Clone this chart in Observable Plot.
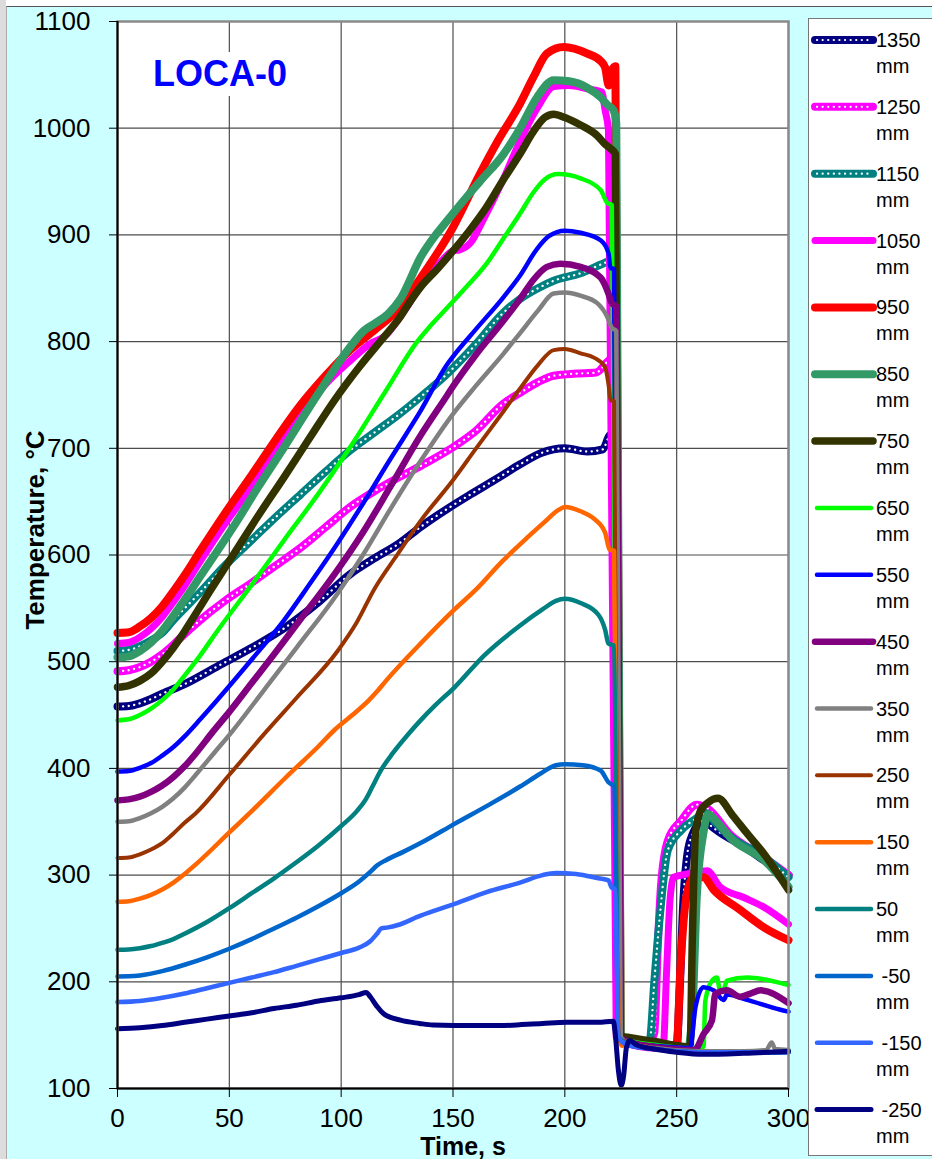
<!DOCTYPE html>
<html>
<head>
<meta charset="utf-8">
<script src="https://cdn.jsdelivr.net/npm/d3@7"></script>
<script src="https://cdn.jsdelivr.net/npm/@observablehq/plot@0.6"></script>
<style>
  body { margin:0; background:#fff; }
  #page { position:relative; width:932px; height:1159px; overflow:hidden; font-family:"Liberation Sans", Arial, sans-serif; }
  #strip { position:absolute; left:0; top:0; width:6px; height:1159px; background:#dcdcdc; }
  #bg { position:absolute; left:6px; top:6px; width:926px; height:1153px; background:#ccffff; border-top:1px solid #555; border-left:1px solid #aaa; }
  #chart { position:absolute; left:0; top:0; }
  #legend { position:absolute; left:808px; top:18px; width:140px; height:1136px; background:#fff; border:1px solid #777; }
  #title { position:absolute; left:148px; top:52px; padding:0 5px; background:#fff; color:#0000ff; font-weight:bold; font-size:36px; line-height:44px; }
</style>
</head>
<body>
<div id="page">
  <div id="strip"></div>
  <div id="bg"></div>
  <div id="chart"></div>
  <div id="title">LOCA-0</div>
  <div id="legend"></div>
</div>
<script>
// ---- tick values ----
const xTicks = [0, 50, 100, 150, 200, 250, 300];
const yTicks = [100, 200, 300, 400, 500, 600, 700, 800, 900, 1000, 1100];

// ---- series names (legend order) ----
const names = ["1350", "1250", "1150", "1050", "950", "850", "750", "650", "550", "450", "350", "250", "150", "50", " -50", " -150", " -250"];

// ---- series values: [time s, temperature °C] ----
const s1350 = [[0,458],[5,458.5],[10,461],[15,465],[20,470],[30,479],[45,496],[60,513],[75,532],[90,556],[104,582],[115,597],[126,611],[136,627],[148,644],[158,657],[170,672],[180,685],[190,696],[195,699],[200,700],[210,697],[217,699],[220,712],[222,714],[224.5,148],[228,143],[240,139],[250,140],[251.5,200],[253,276],[256,332],[262,351],[266,345],[270,339],[280,327],[289,314],[300,300]];
const s1250 = [[0,491],[5,492],[10,495],[15,500],[20,507],[25,516],[30,526],[37,539],[48,557],[60,574],[70,589],[82,607],[93,626],[104,645],[115,660],[126,673],[136,684],[150,701],[160,716],[172,741],[180,752],[188,762],[195,768],[205,770],[214,771],[219,781],[221.5,785],[224,148],[228,143],[236,140],[240,152],[241.5,230],[243,290],[246,332],[252,351],[259,366],[264,362],[274,338],[288,318],[300,300]];
const s1150 = [[0,510],[5,511],[10,514.5],[15,520],[20,527],[25,539],[30,550],[37,565],[48,590],[60,614],[71,636],[82,657],[93,678],[104,698],[115,715],[126,732],[136,749],[148,771],[160,797],[172,826],[180,840],[188,850],[195,857],[207,864],[217,873],[221,876],[223.5,148],[228,143],[236,140],[238,145],[240,200],[242.5,262],[246,323],[252,342],[258,352],[263.5,358],[267,350],[274,336],[289,317],[300,298]];
const s1050 = [[0,517],[5,518],[10,523],[15,531],[20,542],[25,556],[30,571],[37,594],[48,629],[60,664],[71,698],[82,732],[93,760],[104,782],[113,798],[120,806],[126,822],[135,850],[145,876],[150,885],[153,886],[158,893],[163,912],[172,950],[180,988],[188,1020],[195,1039],[202,1040],[210,1037],[216.5,1034],[218,1017],[219.5,998],[223,148],[228,142],[240,138],[244,140],[245.5,210],[247,276],[248.7,298],[254.6,301],[263.6,304],[269.4,289],[280,279],[289,270],[300,254]];
const s950 = [[0,527],[5,527.6],[10,533],[15,541],[20,552],[25,566],[30,581],[37,604],[48,639],[60,675],[71,709],[82,741],[93,768],[104,792],[115,811],[126,831],[135,858],[150,907],[162,957],[170,988],[180,1023],[186,1048],[192,1070],[199.5,1076],[210,1070],[216,1063],[218,1057],[219.6,1040],[221,1054],[222.6,1058],[225,148],[228,144],[240,140],[250,141],[251.7,214],[254.6,283],[257.7,298],[262,298],[266.6,286],[278,268],[289,251],[300,239]];
const s850 = [[0,504],[5,505],[10,510],[15,518],[20,529],[25,543],[30,558],[37,580],[52,627],[63,664],[74.5,701],[90,752],[104,795],[110,810],[115,817],[121,826],[126.5,840],[135.5,879],[150,920],[162,950],[172.7,976],[180,1000],[187.6,1029],[195,1045],[202,1044],[210,1038],[216,1029],[219,1022],[221.7,1017],[223,1005],[225,148],[228,145],[240,141],[255,138],[257,170],[259,280],[262,340],[264,357],[268,350],[274,335],[289,314],[300,289]];
const s750 = [[0,476],[5,477.5],[10,482],[15,489],[20,500],[25,513],[28,522],[35,545],[41,565],[52,601],[63,637],[74.5,673],[86,710],[97,745],[108,776],[119,804],[126,822],[131,838],[135.5,851],[143,868],[150,885],[157,903],[165,926],[172,950],[180,976],[186,997],[191,1010],[195,1013],[200,1010],[207,1003],[214.5,993],[218,985],[220.4,981],[222.6,976],[224.8,149],[228,148],[240,144],[256,139],[257,240],[258.4,339],[260.6,360],[264,368],[268.5,372],[275,356],[281.5,339],[289,320],[300,286]];
const s650 = [[0,445],[5,446],[10,450],[15,456],[20,464],[25,474],[30,487],[37,506],[44.7,529],[60,572],[74.5,614],[90,658],[104,701],[120,754],[134,800],[140,815],[147.5,832],[155,849],[165,873],[172.7,897],[180,920],[186,940],[191,952],[197,957],[207,953],[216,942],[219,930],[221,928],[224,148],[228,145],[240,141],[255,138],[262,139],[262.8,182],[265.8,201],[268,204],[269.4,192],[270.8,192],[272.5,201],[281.5,204],[300,197]];
const s550 = [[0,397],[5,397.5],[10,400.5],[15,405],[20,412],[25,420],[30,430],[37,446],[45,465],[60,502],[74.5,539],[86,573],[98.4,611],[110,649],[122,690],[135.5,735],[147.5,779],[150,786],[160,811],[172.7,842],[180,862],[187.6,887],[193,899],[200,904],[207,902],[216,895],[219.5,883],[220.4,869],[222,868],[224,148],[228,144],[240,140],[256,138],[258.4,176],[262,195],[266.6,192],[271,183],[272.5,188],[281.5,183],[296,174],[300,172]];
const s450 = [[0,370],[5,371],[10,373.5],[15,378],[20,384],[25,392],[30,402],[35,414],[42.5,434],[50,453],[60,480],[70,507],[81.9,540],[90,562],[98.4,586],[110,622],[122,664],[135.5,712],[147.5,750],[150,758],[160,787],[172.7,820],[180,840],[186,858],[192,870],[198,873],[207,870],[216,860],[219.5,845],[221,836],[223,833],[225,148],[228,144],[240,139],[258,136],[262,151],[265.8,164],[267.3,189],[272.5,192],[278.5,186],[283,189],[287.5,192],[300,180]];
const s350 = [[0,350],[5,350.5],[10,353.5],[15,358],[20,364],[25,372],[30,382],[35,394],[43,414],[51.4,435],[65,472],[80,513],[98.4,564],[110,601],[122,643],[135.5,688],[150.3,733],[160,758],[172.7,789],[180,808],[188,829],[195,845],[200,846],[207,843],[214.5,836],[219,823],[221,813],[223,810],[225,148],[228,143],[240,138],[260,135],[280,135],[290,136],[292.5,143],[294,137],[300,136]];
const s250 = [[0,316],[5,316.5],[10,319.5],[15,324],[20,330],[25,339],[30,349],[35,358],[50,394],[66.3,434],[80,466],[98.4,510],[107,537],[114.8,568],[125,600],[135.5,632],[150.3,671],[160,699],[172.7,735],[180,756],[188,778],[195,792],[200,793],[207,789],[213,785],[218,776],[219.5,760],[220.5,745],[222,744],[224,148],[228,143],[240,137],[260,134],[300,134]];
const s150 = [[0,275],[5,275.5],[10,278],[15,281.5],[20,286.5],[25,293],[30,301],[35,310],[50,340],[60,360],[75,391],[90,421],[97,436],[105,450],[112,463],[116,472],[120,482],[135.5,517],[150.7,549],[160,567],[172,594],[182,614],[191,631],[197,642],[200,645],[207,641],[213,634],[218,621],[220,605],[222,604],[224,148],[225.6,140],[228,142],[240,137],[260,134],[300,134]];
const s50 = [[0,230],[5,230.3],[10,231.5],[15,233.5],[20,236.5],[25,240],[30,245],[40,256],[50,269],[60,283],[70,297],[80,312],[90,328],[100,346],[107,360],[111,371],[114,383],[118,399],[123,414],[130,432],[135.5,445],[142,459],[150.7,476],[164,506],[180,534],[190,549],[196,557],[200,559],[207,555],[215,544],[218,530],[219.5,517],[222,515],[224,148],[228,142],[240,137],[260,134],[300,134]];
const sm50 = [[0,205],[5,205.2],[10,206],[20,210],[30,216],[40,223],[50,231],[60,240],[70,250],[80,260],[90,271],[100,283],[108,294],[113,303],[116,309],[120,314],[128,322],[135.5,330],[150.7,348],[167,367],[180,383],[189,395],[196,403],[200,404],[208,403],[216,398],[219.5,387],[222,383],[224,148],[228,141],[240,137],[260,134],[300,134]];
const sm150 = [[0,181],[10,182],[20,185],[30,189],[40,194],[50,199],[60,204],[70,209],[80,215],[90,221],[100,227],[108,232],[113,238],[116,245],[118,250],[121,251],[125,253],[135.5,262],[150.7,273],[165,284],[180,293],[190,300],[196,302],[205,301],[215,297],[219.5,295],[221,288],[222.5,287],[224,148],[228,141],[240,137],[260,134],[300,134]];
const sm250 = [[0,156],[10,157],[20,159],[30,162],[40,165],[50,168],[60,171],[70,175],[80,178],[90,182],[100,185],[108,188],[111.2,190],[113,186],[116,177],[119,170],[126.5,164],[135,161],[141,159.5],[160,159],[171,159],[190,161],[201,162],[215,162],[221.7,163],[222.5,152],[224,116],[225.2,103],[226.3,112],[227.5,138],[229,145],[232,141],[240,137],[250,134],[262,132],[280,133],[300,135]];

const values = [s1350, s1250, s1150, s1050, s950, s850, s750, s650, s550, s450, s350, s250, s150, s50, sm50, sm150, sm250];
const colors = ["#000080", "#ff00ff", "#008080", "#ff00ff", "#ff0000", "#339966", "#333300", "#00ff00", "#0000ff", "#800080", "#808080", "#993300", "#ff6600", "#008080", "#0066cc", "#3366ff", "#000080"];
const widths = [8, 8, 8, 7, 8, 8, 7.5, 4.5, 4.5, 6.5, 4.5, 4, 4.5, 4.5, 4.5, 4.5, 5];
const dotted = [true, true, true, false, false, false, false, false, false, false, false, false, false, false, false, false, false];

const lineMarks = [];
values.forEach((data, i) => {
  lineMarks.push(Plot.line(data, {x: d => d[0], y: d => d[1], stroke: colors[i], strokeWidth: widths[i], curve: "monotone-x", strokeLinejoin: "round", strokeLinecap: "round"}));
  if (dotted[i]) {
    lineMarks.push(Plot.line(data, {x: d => d[0], y: d => d[1], stroke: "#ffffff", strokeWidth: 2.3, strokeDasharray: "0.1,5.5", strokeLinecap: "round", curve: "monotone-x"}));
  }
});

const chart = Plot.plot({
  width: 932, height: 1159,
  marginLeft: 117, marginRight: 144, marginTop: 21, marginBottom: 71,
  x: {domain: [xTicks[0], xTicks[xTicks.length - 1]]},
  y: {domain: [yTicks[0], yTicks[yTicks.length - 1]]},
  style: {background: "transparent", fontFamily: "'Liberation Sans', Arial, sans-serif", fontSize: "26px", color: "#000", overflow: "visible"},
  marks: [
    Plot.frame({fill: "white"}),
    Plot.gridX(xTicks, {stroke: "#4d4d4d", strokeOpacity: 1, strokeWidth: 1.2}),
    Plot.gridY(yTicks, {stroke: "#4d4d4d", strokeOpacity: 1, strokeWidth: 1.2}),
    ...lineMarks,
    Plot.frame({stroke: "#8a8a8a", strokeWidth: 2.5}),
    Plot.ruleX([xTicks[0]], {stroke: "#000", strokeWidth: 2}),
    Plot.ruleY([yTicks[0]], {stroke: "#000", strokeWidth: 2}),
    Plot.axisX(xTicks, {tickSize: 9, tickPadding: 11, label: null, fontSize: 26, tickFormat: d => String(d)}),
    Plot.axisY(yTicks, {tickSize: 8, tickPadding: 19, label: null, fontSize: 26, tickFormat: d => String(d)})
  ]
});
document.getElementById("chart").appendChild(chart);

// axis titles
const svg = d3.select(chart);
svg.append("text")
  .attr("x", 463).attr("y", 1155)
  .attr("text-anchor", "middle")
  .attr("font-weight", "bold").attr("font-size", 25)
  .attr("font-family", "'Liberation Sans', Arial, sans-serif")
  .attr("fill", "#000")
  .text("Time, s");
svg.append("text")
  .attr("transform", "translate(44,530) rotate(-90)")
  .attr("text-anchor", "middle")
  .attr("font-weight", "bold").attr("font-size", 26)
  .attr("font-family", "'Liberation Sans', Arial, sans-serif")
  .attr("fill", "#000")
  .text("Temperature, °C");

// legend
const leg = d3.select("#legend").append("svg")
  .attr("width", 140).attr("height", 1136)
  .style("position", "absolute").style("left", 0).style("top", 0);
names.forEach((n, i) => {
  const y = 40 + 66.85 * i - 19;
  const thick = widths[i] >= 6;
  const x1 = thick ? 6 : 8, x2 = thick ? 64 : 62;
  leg.append("line").attr("x1", x1).attr("x2", x2).attr("y1", y).attr("y2", y)
    .attr("stroke", colors[i]).attr("stroke-width", widths[i]).attr("stroke-linecap", "round");
  if (dotted[i]) {
    leg.append("line").attr("x1", x1 + 2).attr("x2", x2).attr("y1", y).attr("y2", y)
      .attr("stroke", "#fff").attr("stroke-width", 2.2).attr("stroke-dasharray", "0.1,5.5").attr("stroke-linecap", "round");
  }
  const t = leg.append("text").attr("x", 67).attr("y", y + 7)
    .attr("font-size", 20).attr("font-family", "'Liberation Sans', Arial, sans-serif")
    .attr("fill", "#000").attr("xml:space", "preserve").style("white-space", "pre");
  t.append("tspan").attr("x", 67).attr("y", y + 7).text(n);
  t.append("tspan").attr("x", 67).attr("y", y + 33).text("mm");
});
</script>
</body>
</html>
